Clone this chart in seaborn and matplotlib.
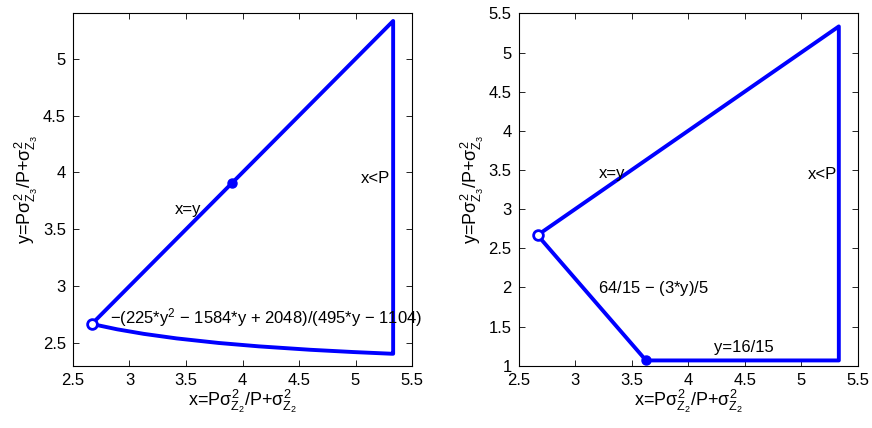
import numpy as np
import pandas as pd
import matplotlib
matplotlib.use('Agg')
import matplotlib.pyplot as plt
import seaborn as sns

# left panel: region bounded by x=y, x<P and the curved lower edge
left_x = [2.667, 5.333, 5.333, 5.321, 4.980, 4.599, 4.145, 3.788, 3.417, 3.126, 2.891, 2.667]
left_y = [2.667, 5.333, 2.405, 2.405, 2.420, 2.440, 2.470, 2.500, 2.540, 2.580, 2.620, 2.667]
left_open = (2.667, 2.667)
left_dot = (3.91, 3.91)

# right panel: polygon
right_x = [2.667, 3.627, 5.333, 5.333, 2.667]
right_y = [2.667, 1.067, 1.067, 5.333, 2.667]
right_open = (2.667, 2.667)
right_dot = (3.627, 1.067)

xticks = [2.5, 3, 3.5, 4, 4.5, 5, 5.5]
left_yticks = [2.5, 3, 3.5, 4, 4.5, 5]
right_yticks = [1, 1.5, 2, 2.5, 3, 3.5, 4, 4.5, 5, 5.5]

xlabel = r'x=P$\sigma^2_{Z_2}$/P+$\sigma^2_{Z_2}$'
ylabel = r'y=P$\sigma^2_{Z_3}$/P+$\sigma^2_{Z_3}$'

sns.set_style('ticks')
plt.rcParams['font.family'] = ['Liberation Sans', 'DejaVu Sans']
plt.rcParams['mathtext.fontset'] = 'custom'
plt.rcParams['mathtext.rm'] = 'Liberation Sans'
plt.rcParams['mathtext.it'] = 'Liberation Sans'
plt.rcParams['mathtext.sf'] = 'Liberation Sans'
plt.rcParams['font.size'] = 12
for k in ['text.color', 'axes.labelcolor', 'xtick.color', 'ytick.color', 'axes.edgecolor']:
    plt.rcParams[k] = 'black'

blue = '#0000ff'
fig = plt.figure(figsize=(8.72, 4.28), dpi=100)
ax1 = fig.add_axes([0.0837, 0.1456, 0.3888, 0.8232])
ax2 = fig.add_axes([0.5948, 0.1456, 0.3888, 0.8232])


def desenha(ax, xs, ys, aberto, cheio):
    df = pd.DataFrame({'x': xs, 'y': ys})
    sns.lineplot(data=df, x='x', y='y', sort=False, estimator=None,
                 color=blue, linewidth=2.8, ax=ax)
    ax.plot([aberto[0]], [aberto[1]], 'o', ms=7, mfc='white', mec=blue, mew=2, zorder=5)
    ax.plot([cheio[0]], [cheio[1]], 'o', ms=6.5, color=blue, zorder=5)


def estilo(ax, yticks, ylim):
    ax.set_xlim(2.5, 5.5)
    ax.set_ylim(*ylim)
    ax.set_xticks(xticks)
    ax.set_xticklabels([f'{t:g}' for t in xticks])
    ax.set_yticks(yticks)
    ax.set_yticklabels([f'{t:g}' for t in yticks])
    ax.tick_params(direction='in', top=True, right=True, length=4, width=0.6, labelsize=12, pad=5)
    for s in ax.spines.values():
        s.set_linewidth(0.8)
        s.set_color('black')
    ax.set_xlabel(xlabel, fontsize=13, labelpad=0)
    ax.set_ylabel(ylabel, fontsize=13, labelpad=2)


desenha(ax1, left_x, left_y, left_open, left_dot)
estilo(ax1, left_yticks, (2.3, 5.4))
ax1.text(3.4, 3.67, 'x=y', va='center', fontsize=12)
ax1.text(5.05, 3.95, 'x<P', va='center', fontsize=12)
ax1.text(2.83, 2.72, r'$-$(225*y$^2$ $-$ 1584*y + 2048)/(495*y $-$ 1104)', va='center', fontsize=12)

desenha(ax2, right_x, right_y, right_open, right_dot)
estilo(ax2, right_yticks, (1, 5.5))
ax2.text(3.21, 3.46, 'x=y', va='center', fontsize=12)
ax2.text(5.06, 3.44, 'x<P', va='center', fontsize=12)
ax2.text(3.2, 1.99, r'64/15 $-$ (3*y)/5', va='center', fontsize=12)
ax2.text(4.23, 1.23, 'y=16/15', va='center', fontsize=12)

fig.savefig('out.png', dpi=100)
